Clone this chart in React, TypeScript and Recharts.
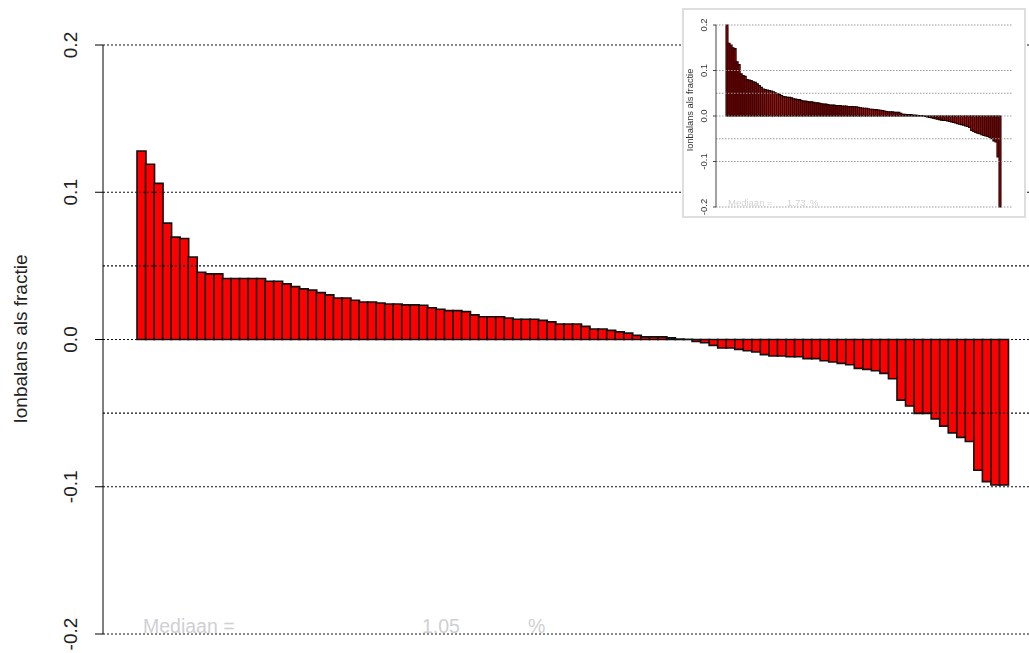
import { BarChart, Bar, XAxis, YAxis, ReferenceLine } from 'recharts'

const FONT = '"Liberation Sans", Arial, sans-serif'

// Ion balance per sample (fraction), sorted high to low
const ionBalance: number[] = [
  0.128, 0.119, 0.106, 0.079, 0.0695, 0.0686, 0.056, 0.0457, 0.0446, 0.0446,
  0.0414, 0.0414, 0.0414, 0.0414, 0.0414, 0.0396, 0.0396, 0.0378, 0.0359, 0.0344,
  0.0335, 0.0318, 0.0303, 0.0282, 0.0282, 0.0267, 0.0255, 0.0255, 0.0248, 0.0241,
  0.0241, 0.0235, 0.0235, 0.0233, 0.0216, 0.0205, 0.0196, 0.0196, 0.0189, 0.0167,
  0.0155, 0.0155, 0.0155, 0.0146, 0.0138, 0.0138, 0.0138, 0.013, 0.012, 0.0105,
  0.0105, 0.0105, 0.0089, 0.0071, 0.0071, 0.0062, 0.0052, 0.0043, 0.0028, 0.0018,
  0.0018, 0.0018, 0.0011, 0.0003, 0.0001, -0.0014, -0.0022, -0.004, -0.0058, -0.0058,
  -0.0067, -0.0076, -0.0085, -0.0103, -0.0112, -0.0112, -0.0117, -0.0117, -0.013, -0.013,
  -0.0144, -0.0153, -0.0162, -0.0171, -0.0196, -0.0203, -0.0212, -0.023, -0.0267, -0.0412,
  -0.0452, -0.0502, -0.0502, -0.0539, -0.0588, -0.0634, -0.0665, -0.0693, -0.0888, -0.0965,
  -0.0988, -0.0988,
]

// Full set shown in the small overview plot
const ionBalanceAll: number[] = [
  0.2, 0.16, 0.156, 0.15, 0.148, 0.119, 0.113, 0.093, 0.089, 0.087,
  0.08, 0.079, 0.078, 0.075, 0.074, 0.071, 0.067, 0.063, 0.059, 0.058,
  0.057, 0.056, 0.055, 0.053, 0.051, 0.049, 0.047, 0.045, 0.043, 0.042,
  0.041, 0.041, 0.04, 0.038, 0.037, 0.036, 0.036, 0.034, 0.033, 0.033,
  0.032, 0.031, 0.031, 0.03, 0.029, 0.029, 0.028, 0.027, 0.026, 0.026,
  0.025, 0.024, 0.024, 0.024, 0.023, 0.023, 0.023, 0.022, 0.022, 0.022,
  0.021, 0.021, 0.021, 0.02, 0.02, 0.019, 0.018, 0.0175, 0.0171, 0.017,
  0.016, 0.015, 0.015, 0.014, 0.014, 0.013, 0.0125, 0.012, 0.011, 0.01,
  0.009, 0.009, 0.009, 0.008, 0.008, 0.008, 0.006, 0.004, 0.004, 0.003,
  0.003, 0.003, 0.002, 0.002, 0.0015, 0.001, 0.001, 0.0005, -0.001, -0.002,
  -0.003, -0.004, -0.005, -0.006, -0.007, -0.008, -0.009, -0.01, -0.01, -0.011,
  -0.012, -0.013, -0.014, -0.015, -0.017, -0.018, -0.019, -0.02, -0.022, -0.023,
  -0.025, -0.032, -0.034, -0.036, -0.038, -0.039, -0.041, -0.043, -0.044, -0.045,
  -0.047, -0.05, -0.055, -0.057, -0.09, -0.2,
]

const yTicks = [-0.2, -0.1, 0, 0.1, 0.2]
const gridLevels = [0.2, 0.1, 0.05, 0, -0.05, -0.1, -0.2]
const yTitle = 'Ionbalans als fractie'
const medianText = 'Mediaan ='

function median(values: number[]) {
  const s = [...values].sort((a, b) => a - b)
  const m = Math.floor(s.length / 2)
  return s.length % 2 ? s[m] : (s[m - 1] + s[m]) / 2
}

const toRows = (values: number[]) => values.map((v, i) => ({ id: i + 1, balance: v }))

function rotatedTick(baseX: number, fontSize: number, fill: string) {
  return (props: any) => {
    const { y, payload } = props
    return (
      <text
        x={baseX}
        y={y}
        transform={`rotate(-90 ${baseX} ${y})`}
        textAnchor="middle"
        fontSize={fontSize}
        fontFamily={FONT}
        fill={fill}
      >
        {Number(payload.value).toFixed(1)}
      </text>
    )
  }
}

function Overview() {
  const rows = toRows(ionBalanceAll)
  const med = (median(ionBalanceAll) * 100).toFixed(2)
  return (
    <div
      style={{
        position: 'absolute',
        left: 682,
        top: 8,
        width: 340,
        height: 206,
        border: '2px solid #dedede',
        background: '#fff',
        filter: 'blur(0.3px)',
      }}
    >
      <BarChart
        width={340}
        height={206}
        data={rows}
        margin={{ top: 15, right: 12, bottom: 9, left: 0 }}
        barCategoryGap={0}
      >
        <XAxis dataKey="id" hide padding={{ left: 10, right: 11 }} />
        <YAxis
          width={32}
          domain={[-0.2, 0.2]}
          ticks={yTicks}
          interval={0}
          axisLine={{ stroke: '#444' }}
          tickLine={{ stroke: '#444' }}
          tickSize={3}
          tick={rotatedTick(23, 9.5, '#333')}
        />
        <Bar dataKey="balance" fill="#d80000" stroke="#120000" strokeWidth={1.1} isAnimationActive={false} />
        {gridLevels.map((v) => (
          <ReferenceLine key={v} y={v} stroke="#999" strokeDasharray="1.5 1.5" />
        ))}
      </BarChart>
      <svg width={340} height={206} style={{ position: 'absolute', left: 0, top: 0, pointerEvents: 'none' }}>
        <text
          x={9}
          y={100}
          transform="rotate(-90 9 100)"
          textAnchor="middle"
          fontSize={9.3}
          fontFamily={FONT}
          fill="#333"
        >
          {yTitle}
        </text>
        <g fontSize={9.5} fontFamily={FONT} fill="#d2d2d2">
          <text x={44} y={196}>{medianText}</text>
          <text x={103} y={196}>{med}</text>
          <text x={126} y={196}>%</text>
        </g>
      </svg>
    </div>
  )
}

export default function App() {
  const rows = toRows(ionBalance)
  const med = (median(ionBalance) * 100).toFixed(2)
  return (
    <div
      style={{
        position: 'fixed',
        left: 0,
        top: 0,
        width: 1029,
        height: 653,
        overflow: 'hidden',
        background: '#fff',
      }}
    >
      <BarChart
        width={1050}
        height={653}
        data={rows}
        margin={{ top: 45, right: 7, bottom: 19, left: 0 }}
        barCategoryGap={0}
      >
        <XAxis dataKey="id" hide padding={{ left: 34, right: 35 }} />
        <YAxis
          width={103}
          domain={[-0.2, 0.2]}
          ticks={yTicks}
          interval={0}
          axisLine={{ stroke: '#000' }}
          tickLine={{ stroke: '#000' }}
          tickSize={8}
          tick={rotatedTick(77, 19, '#222')}
        />
        <Bar dataKey="balance" fill="#ff0000" stroke="#111" strokeWidth={1.6} isAnimationActive={false} />
        {gridLevels.map((v) => (
          <ReferenceLine key={v} y={v} stroke="#111" strokeWidth={1.1} strokeDasharray="2 2" />
        ))}
      </BarChart>
      <svg width={1029} height={653} style={{ position: 'absolute', left: 0, top: 0, pointerEvents: 'none' }}>
        <text
          x={27}
          y={339}
          transform="rotate(-90 27 339)"
          textAnchor="middle"
          fontSize={19}
          fontFamily={FONT}
          fill="#222"
        >
          {yTitle}
        </text>
        <g fontSize={19.5} fontFamily={FONT} fill="#cfd0d4">
          <text x={143} y={633}>{medianText}</text>
          <text x={422} y={633}>{med}</text>
          <text x={528} y={633}>%</text>
        </g>
      </svg>
      <Overview />
    </div>
  )
}
